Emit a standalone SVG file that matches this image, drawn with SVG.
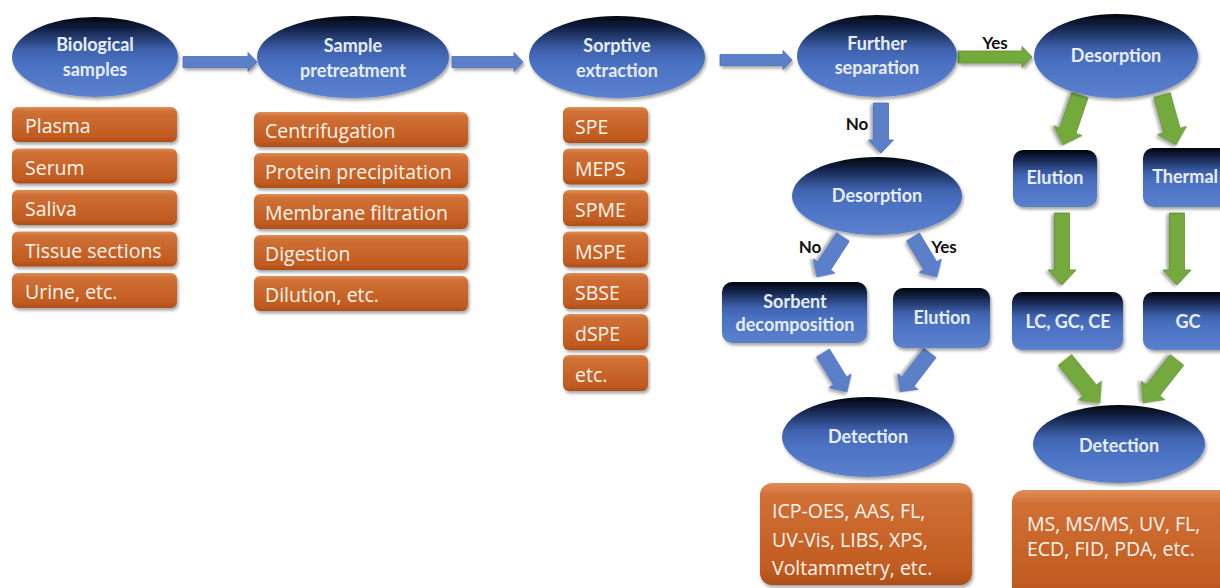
<svg xmlns="http://www.w3.org/2000/svg" width="1220" height="588" viewBox="0 0 1220 588">
  <defs>
    <linearGradient id="gBlue" x1="0" y1="0" x2="0" y2="1">
      <stop offset="0" stop-color="#02050c"/>
      <stop offset="0.12" stop-color="#0e1c3c"/>
      <stop offset="0.42" stop-color="#3f62ae"/>
      <stop offset="0.6" stop-color="#4b72c3"/>
      <stop offset="1" stop-color="#5b81cd"/>
    </linearGradient>
    <linearGradient id="gOrange" x1="0" y1="0" x2="0" y2="1">
      <stop offset="0" stop-color="#e08e58"/>
      <stop offset="0.12" stop-color="#d07036"/>
      <stop offset="0.85" stop-color="#c15b20"/>
      <stop offset="1" stop-color="#ad4e19"/>
    </linearGradient>
    <filter id="shadow" x="-20%" y="-20%" width="140%" height="150%">
      <feDropShadow dx="1.5" dy="2.5" stdDeviation="1.8" flood-color="#000" flood-opacity="0.35"/>
    </filter>
    <style>
      .ell { fill: url(#gBlue); filter: url(#shadow); }
      .bbox { fill: url(#gBlue); filter: url(#shadow); }
      .obox { fill: url(#gOrange); filter: url(#shadow); }
      .nl { font-family: Lato, "Open Sans", sans-serif; font-weight: bold; font-size: 18px; fill: #e8eef9; text-anchor: middle; }
      .ot { font-family: "Open Sans", "Noto Sans", sans-serif; font-size: 19.5px; fill: #fff6ee; }
      .yn { font-family: Lato, "Open Sans", sans-serif; font-weight: bold; font-size: 17px; fill: #111; text-anchor: middle; }
      .ab { fill: #5b7fca; stroke: #4a6db6; stroke-width: 0.8; filter: url(#shadow); }
      .ag { fill: #73a93c; stroke: #5e8f2e; stroke-width: 0.8; filter: url(#shadow); }
    </style>
  </defs>
  <rect width="1220" height="588" fill="#ffffff"/>

  <!-- connectors -->
  <g id="connectors">
    <!-- main horizontal flow -->
    <polygon class="ab" transform="translate(183,62)" points="0,-5.5 65,-5.5 65,-9.5 74,0 65,9.5 65,5.5 0,5.5"/>
    <polygon class="ab" transform="translate(452,62)" points="0,-5.5 62,-5.5 62,-9.5 71,0 62,9.5 62,5.5 0,5.5"/>
    <polygon class="ab" transform="translate(720,60)" points="0,-5.5 63,-5.5 63,-9.5 72,0 63,9.5 63,5.5 0,5.5"/>
    <polygon class="ag" transform="translate(958,57)" points="0,-6 64,-6 64,-10.5 74,0 64,10.5 64,6 0,6"/>
    <!-- No branch -->
    <polygon class="ab" transform="translate(881,103) rotate(90)" points="0,-7.5 37,-7.5 37,-12.5 50,0 37,12.5 37,7.5 0,7.5"/>
    <polygon class="ab" transform="translate(843,237) rotate(123)" points="0,-7.5 34.7,-7.5 34.7,-13 47.7,0 34.7,13 34.7,7.5 0,7.5"/>
    <polygon class="ab" transform="translate(913,237) rotate(59)" points="0,-7.5 33.6,-7.5 33.6,-13 46.6,0 33.6,13 33.6,7.5 0,7.5"/>
    <polygon class="ab" transform="translate(823,353) rotate(58.4)" points="0,-7.5 32.8,-7.5 32.8,-13 45.8,0 32.8,13 32.8,7.5 0,7.5"/>
    <polygon class="ab" transform="translate(930,353) rotate(127.6)" points="0,-7.5 36.2,-7.5 36.2,-13 49.2,0 36.2,13 36.2,7.5 0,7.5"/>
    <!-- Yes branch -->
    <polygon class="ag" transform="translate(1080,95) rotate(108.8)" points="0,-8.5 37.8,-8.5 37.8,-15 52.8,0 37.8,15 37.8,8.5 0,8.5"/>
    <polygon class="ag" transform="translate(1162,95) rotate(74.4)" points="0,-8.5 36.9,-8.5 36.9,-15 51.9,0 36.9,15 36.9,8.5 0,8.5"/>
    <polygon class="ag" transform="translate(1062,213) rotate(90)" points="0,-7.5 57,-7.5 57,-14 72,0 57,14 57,7.5 0,7.5"/>
    <polygon class="ag" transform="translate(1177,213) rotate(90)" points="0,-7.5 57,-7.5 57,-14 72,0 57,14 57,7.5 0,7.5"/>
    <polygon class="ag" transform="translate(1065,360) rotate(50.9)" points="0,-8.5 39.4,-8.5 39.4,-15 55.4,0 39.4,15 39.4,8.5 0,8.5"/>
    <polygon class="ag" transform="translate(1177,360) rotate(128.3)" points="0,-8.5 38.8,-8.5 38.8,-15 54.8,0 38.8,15 38.8,8.5 0,8.5"/>
    <!-- branch labels -->
    <text class="yn" x="995" y="49">Yes</text>
    <text class="yn" x="857" y="130">No</text>
    <text class="yn" x="810" y="253">No</text>
    <text class="yn" x="944" y="253">Yes</text>
  </g>

  <!-- Biological samples -->
  <g id="biological-samples">
    <ellipse class="ell" cx="95" cy="57" rx="83" ry="40"/>
    <text class="nl" x="95" y="51">Biological</text>
    <text class="nl" x="95" y="76">samples</text>
  </g>
  <g id="sample-list">
    <rect class="obox" x="12" y="107" width="165" height="35" rx="6"/>
    <text class="ot" x="25" y="133">Plasma</text>
    <rect class="obox" x="12" y="148.5" width="165" height="35" rx="6"/>
    <text class="ot" x="25" y="174.5">Serum</text>
    <rect class="obox" x="12" y="190" width="165" height="35" rx="6"/>
    <text class="ot" x="25" y="216">Saliva</text>
    <rect class="obox" x="12" y="231.5" width="165" height="35" rx="6"/>
    <text class="ot" x="25" y="257.5">Tissue sections</text>
    <rect class="obox" x="12" y="273" width="165" height="35" rx="6"/>
    <text class="ot" x="25" y="299">Urine, etc.</text>
  </g>

  <!-- Sample pretreatment -->
  <g id="sample-pretreatment">
    <ellipse class="ell" cx="353" cy="57" rx="96" ry="41"/>
    <text class="nl" x="353" y="52">Sample</text>
    <text class="nl" x="353" y="77">pretreatment</text>
  </g>
  <g id="pretreatment-list">
    <rect class="obox" x="254" y="112" width="214" height="35" rx="6"/>
    <text class="ot" x="265" y="137.5">Centrifugation</text>
    <rect class="obox" x="254" y="153" width="214" height="35" rx="6"/>
    <text class="ot" x="265" y="178.5">Protein precipitation</text>
    <rect class="obox" x="254" y="194" width="214" height="35" rx="6"/>
    <text class="ot" x="265" y="219.5">Membrane filtration</text>
    <rect class="obox" x="254" y="235" width="214" height="35" rx="6"/>
    <text class="ot" x="265" y="260.5">Digestion</text>
    <rect class="obox" x="254" y="276" width="214" height="35" rx="6"/>
    <text class="ot" x="265" y="301.5">Dilution, etc.</text>
  </g>

  <!-- Sorptive extraction -->
  <g id="sorptive-extraction">
    <ellipse class="ell" cx="617" cy="57" rx="88" ry="41"/>
    <text class="nl" x="617" y="52">Sorptive</text>
    <text class="nl" x="617" y="77">extraction</text>
  </g>
  <g id="extraction-list">
    <rect class="obox" x="563" y="107" width="85" height="36" rx="6"/>
    <text class="ot" x="575" y="134">SPE</text>
    <rect class="obox" x="563" y="148.5" width="85" height="36" rx="6"/>
    <text class="ot" x="575" y="175.5">MEPS</text>
    <rect class="obox" x="563" y="190" width="85" height="36" rx="6"/>
    <text class="ot" x="575" y="217">SPME</text>
    <rect class="obox" x="563" y="231.5" width="85" height="36" rx="6"/>
    <text class="ot" x="575" y="258.5">MSPE</text>
    <rect class="obox" x="563" y="273" width="85" height="36" rx="6"/>
    <text class="ot" x="575" y="300">SBSE</text>
    <rect class="obox" x="563" y="314" width="85" height="36" rx="6"/>
    <text class="ot" x="575" y="341">dSPE</text>
    <rect class="obox" x="563" y="355" width="85" height="36" rx="6"/>
    <text class="ot" x="575" y="382">etc.</text>
  </g>

  <!-- Further separation -->
  <g id="further-separation">
    <ellipse class="ell" cx="877" cy="56" rx="80" ry="41"/>
    <text class="nl" x="877" y="50">Further</text>
    <text class="nl" x="877" y="74">separation</text>
  </g>

  <!-- No branch -->
  <g id="desorption-no">
    <ellipse class="ell" cx="877" cy="196" rx="85" ry="39"/>
    <text class="nl" x="877" y="202">Desorption</text>
  </g>
  <g id="sorbent-decomposition">
    <rect class="bbox" x="722" y="282" width="145" height="61" rx="10"/>
    <text class="nl" x="795" y="308">Sorbent</text>
    <text class="nl" x="795" y="331">decomposition</text>
  </g>
  <g id="elution-no">
    <rect class="bbox" x="893" y="288" width="97" height="60" rx="10"/>
    <text class="nl" x="942" y="324">Elution</text>
  </g>
  <g id="detection-no">
    <ellipse class="ell" cx="868" cy="437" rx="86" ry="40"/>
    <text class="nl" x="868" y="443">Detection</text>
  </g>
  <g id="techniques-no">
    <rect class="obox" x="760" y="483" width="212" height="102" rx="12"/>
    <text class="ot" x="772" y="518">ICP-OES, AAS, FL,</text>
    <text class="ot" x="772" y="546.5">UV-Vis, LIBS, XPS,</text>
    <text class="ot" x="772" y="575">Voltammetry, etc.</text>
  </g>

  <!-- Yes branch -->
  <g id="desorption-yes">
    <ellipse class="ell" cx="1116" cy="56" rx="82" ry="42"/>
    <text class="nl" x="1116" y="62">Desorption</text>
  </g>
  <g id="elution-yes">
    <rect class="bbox" x="1013" y="150" width="84" height="57" rx="10"/>
    <text class="nl" x="1055" y="184">Elution</text>
  </g>
  <g id="thermal">
    <rect class="bbox" x="1143" y="148" width="95" height="59" rx="10"/>
    <text class="nl" x="1218" y="183" style="text-anchor:end">Thermal</text>
  </g>
  <g id="lc-gc-ce">
    <rect class="bbox" x="1012" y="292" width="111" height="58" rx="10"/>
    <text class="nl" x="1068" y="328">LC, GC, CE</text>
  </g>
  <g id="gc">
    <rect class="bbox" x="1143" y="292" width="95" height="58" rx="10"/>
    <text class="nl" x="1188" y="328">GC</text>
  </g>
  <g id="detection-yes">
    <ellipse class="ell" cx="1119" cy="444" rx="86" ry="39"/>
    <text class="nl" x="1119" y="452">Detection</text>
  </g>
  <g id="techniques-yes">
    <rect class="obox" x="1012" y="490" width="222" height="110" rx="12"/>
    <text class="ot" x="1027" y="531">MS, MS/MS, UV, FL,</text>
    <text class="ot" x="1027" y="556">ECD, FID, PDA, etc.</text>
  </g>
</svg>
